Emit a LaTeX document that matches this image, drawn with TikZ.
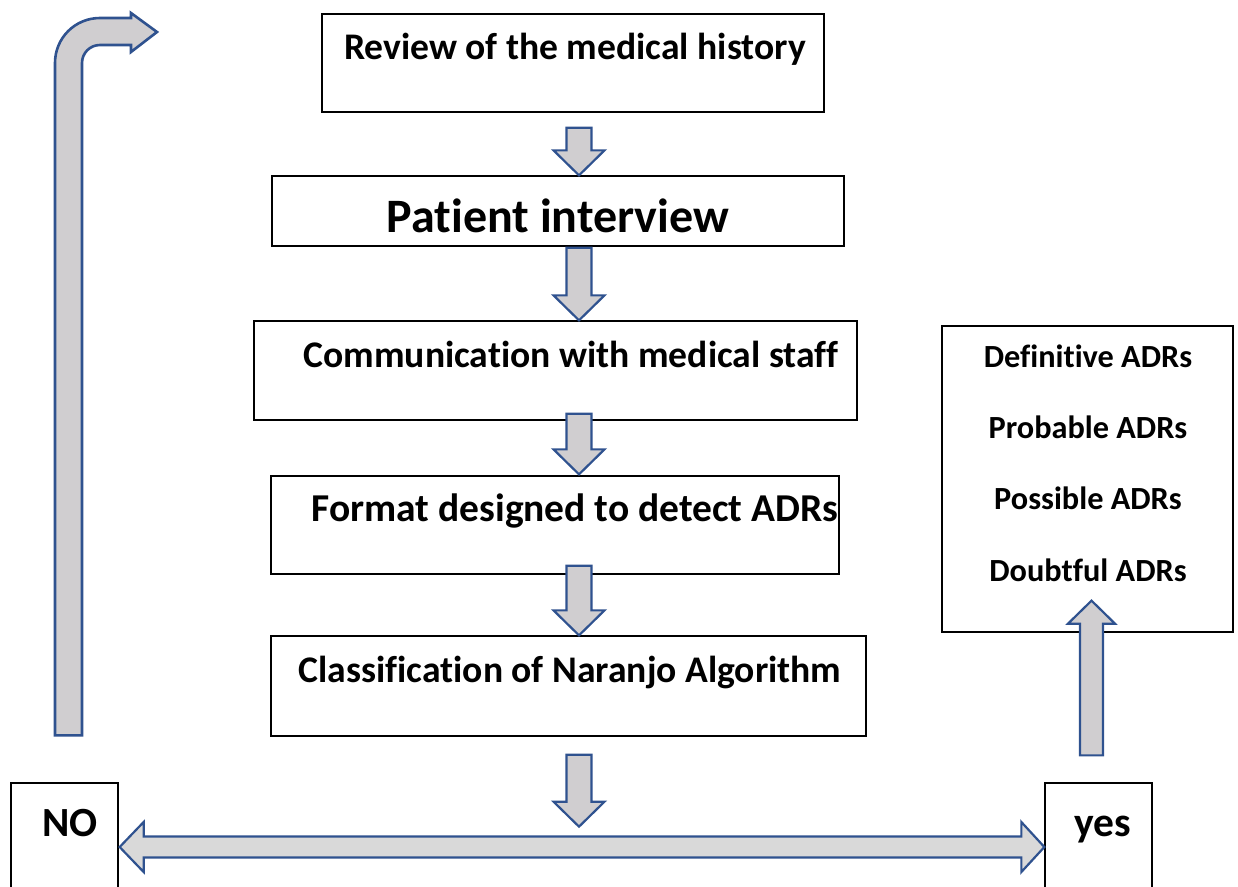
\documentclass[tikz,border=0pt]{standalone}
\usepackage{fontspec}
\setmainfont{Carlito}[Ligatures=NoCommon]
\usepackage{tikz}
\usetikzlibrary{shapes, arrows, calc}

\definecolor{arrowblue}{RGB}{47,82,143}
\definecolor{arrowgray}{RGB}{208,206,208}
\definecolor{barrgray}{RGB}{217,217,217}

% block arrow pointing down: #1 tail, #2 tip
\newcommand{\downblock}[2]{%
  \draw[blockarrow] ($(#1)+(-12.5,0)$) -- ($(#2)+(-12.5,-25)$) -- ($(#2)+(-25.5,-25)$) -- (#2)
    -- ($(#2)+(25.5,-25)$) -- ($(#2)+(12.5,-25)$) -- ($(#1)+(12.5,0)$) -- cycle;}

\begin{document}
\begin{tikzpicture}[x=1pt,y=-1pt]
            \tikzstyle{box}=[rectangle,draw=black,line width=1.3pt,inner sep=0pt]
            \tikzstyle{boxtext}=[anchor=base,inner sep=0pt,font=\bfseries\fontsize{37.6}{44}\selectfont]
            \tikzstyle{adrtext}=[anchor=base,inner sep=0pt,font=\bfseries\fontsize{32.3}{38}\selectfont]
            \tikzstyle{blockarrow}=[draw=arrowblue,fill=arrowgray,line width=2.2pt,line join=miter]
            \useasboundingbox (0,0) rectangle (1238,886);

            \node[box,minimum width=502,minimum height=98] (review) at (573,63) {};
            \node[box,minimum width=572,minimum height=70] (interview) at (558,211) {};
            \node[box,minimum width=603,minimum height=99] (comm) at (555.5,370.5) {};
            \node[box,minimum width=568,minimum height=98] (format) at (555,525) {};
            \node[box,minimum width=595,minimum height=100] (naranjo) at (568.5,686) {};
            \node[box,minimum width=291,minimum height=306] (adr) at (1087.5,479) {};
            \node[box,minimum width=107,minimum height=128] (no) at (64.5,847) {};
            \node[box,minimum width=107,minimum height=128] (yes) at (1098.5,847) {};

            \node[boxtext] (reviewtxt) at (575,59) {Review of the medical history};
            \node[boxtext,font=\bfseries\fontsize{48}{54}\selectfont] (interviewtxt) at (558,232) {Patient interview};
            \node[boxtext] (commtxt) at (571,367) {Communication with medical staff};
            \node[boxtext,font=\bfseries\fontsize{39.5}{46}\selectfont] (formattxt) at (575,521) {Format designed to detect ADRs};
            \node[boxtext] (naranjotxt) at (570,682) {Classification of Naranjo Algorithm};
            \node[adrtext] (definitive) at (1088,367) {Definitive ADRs};
            \node[adrtext] (probable) at (1088,438) {Probable ADRs};
            \node[adrtext] (possible) at (1088,509) {Possible ADRs};
            \node[adrtext] (doubtful) at (1088,581) {Doubtful ADRs};
            \node[boxtext,font=\bfseries\fontsize{41.5}{48}\selectfont] (notxt) at (70,836) {NO};
            \node[boxtext,font=\bfseries\fontsize{41.5}{48}\selectfont] (yestxt) at (1103,836) {yes};

            % arrows down the middle
            \coordinate (axis) at (579,0);
            \coordinate (t1) at ($(review.south -| axis)+(0,15)$);
            \coordinate (h1) at (interview.north -| axis);
            \coordinate (t2) at ($(interview.south -| axis)+(0,1)$);
            \coordinate (h2) at (comm.north -| axis);
            \coordinate (t3) at ($(comm.south -| axis)+(0,-7)$);
            \coordinate (h3) at ($(format.north -| axis)+(0,-1)$);
            \coordinate (t4) at ($(format.south -| axis)+(0,-9)$);
            \coordinate (h4) at (naranjo.north -| axis);
            \coordinate (t5) at ($(naranjo.south -| axis)+(0,18)$);
            \coordinate (h5) at ($(naranjo.south -| axis)+(0,90)$);
            \downblock{t1}{h1}
            \downblock{t2}{h2}
            \downblock{t3}{h3}
            \downblock{t4}{h4}
            \downblock{t5}{h5}

            % NO / yes
            \draw[blockarrow,fill=barrgray] ($(no.east)+(1,0)$) -- ($(no.east)+(25,-25)$) -- ($(no.east)+(25,-10.5)$)
                -- ($(yes.west)+(-23,-10.5)$) -- ($(yes.west)+(-23,-25)$) -- (yes.west)
                -- ($(yes.west)+(-23,25)$) -- ($(yes.west)+(-23,10.5)$) -- ($(no.east)+(25,10.5)$)
                -- ($(no.east)+(25,25)$) -- cycle;

            % yes -> ADR classes
            \coordinate (uptail) at ($(yes.north)+(-7,-27)$);
            \coordinate (uptip) at ($(adr.south)+(4,-32)$);
            \draw[blockarrow] ($(uptail)+(-11.5,0)$) -- ($(uptip)+(-11.5,23)$) -- ($(uptip)+(-23.5,23)$) -- (uptip)
                -- ($(uptip)+(23.5,23)$) -- ($(uptip)+(11.5,23)$) -- ($(uptail)+(11.5,0)$) -- cycle;

            % NO -> back to the start
            \coordinate (looptail) at ($(no.north)+(4,-47)$);
            \coordinate (looptip) at (157,32);
            \coordinate (inbase) at ($(looptail)+(13.5,0)$);
            \coordinate (outbase) at ($(looptail)+(-13.5,0)$);
            \coordinate (incorner) at (inbase |- 0,45);
            \coordinate (outcorner) at (outbase |- 0,18);
            \draw[blockarrow,line width=2.6pt] (inbase) -- ($(incorner)+(0,18)$)
                .. controls ($(incorner)+(0,8)$) and ($(incorner)+(8,0)$) .. ($(incorner)+(18,0)$)
                -- ($(looptip)+(-26,13)$) -- ($(looptip)+(-26,20)$) -- (looptip)
                -- ($(looptip)+(-26,-19)$) -- ($(looptip)+(-26,-14)$) -- ($(outcorner)+(45,0)$)
                .. controls ($(outcorner)+(20,0)$) and ($(outcorner)+(0,20)$) .. ($(outcorner)+(0,45)$)
                -- (outbase) -- cycle;
\end{tikzpicture}
\end{document}
